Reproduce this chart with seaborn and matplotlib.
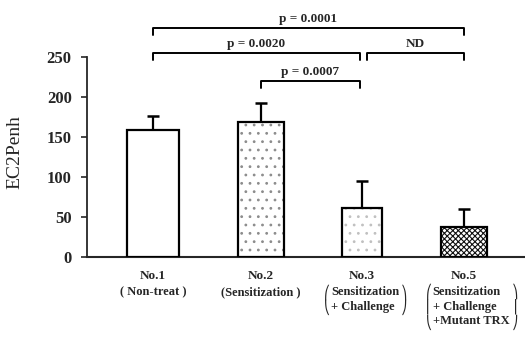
import matplotlib
matplotlib.use("Agg")
import matplotlib.pyplot as plt
import matplotlib.colors as mcolors
import seaborn as sns
import pandas as pd

groups = ["No.1", "No.2", "No.3", "No.5"]
treatments = [
    ["( Non-treat )"],
    ["(Sensitization )"],
    ["Sensitization", "+ Challenge"],
    ["Sensitization", "+ Challenge", "+Mutant TRX"],
]
ec2penh = [159, 169, 61, 38]
sem = [17, 23, 34, 22]

# (left group, right group, level, label)
comparisons = [
    (0, 3, 286, "p = 0.0001"),
    (0, 2, 255, "p = 0.0020"),
    (2, 3, 255, "ND"),
    (1, 2, 220, "p = 0.0007"),
]

sns.set_style("white")
plt.rcParams["font.family"] = ["Liberation Serif", "DejaVu Serif"]
plt.rcParams["hatch.linewidth"] = 0.8

fig = plt.figure(figsize=(5.25, 3.38), dpi=100)
ax = fig.add_axes([87 / 525, 1 - 257 / 338, (525 - 87) / 525, 252 / 338])

df = pd.DataFrame({"group": groups, "value": ec2penh})
sns.barplot(data=df, x="group", y="value", ax=ax, errorbar=None,
            color="white", edgecolor="black", linewidth=1.6, width=0.46,
            zorder=3)

# fill pattern, pattern colour and bar width for each group
hatches = ["", "..", "..", "xxxxxx"]
hatch_colors = ["black", "#8c8c8c", "#c0c0c0", "#111111"]
bar_widths = [0.50, 0.44, 0.39, 0.44]
centers = [0.0, 1.04, 2.02, 3.0]
for patch, h, hc, w, c in zip(ax.patches, hatches, hatch_colors,
                              bar_widths, centers):
    patch.set_hatch(h)
    patch._hatch_color = mcolors.to_rgba(hc)
    patch.set_width(w)
    patch.set_x(c - w / 2)

xs = [p.get_x() + p.get_width() / 2 for p in ax.patches]
ax.errorbar(xs, ec2penh, yerr=[[0] * len(sem), sem], fmt="none",
            ecolor="black", elinewidth=1.6, capsize=4.5, capthick=1.8,
            zorder=2)

ax.set_xlim(-0.636, 3.59)
ax.set_ylim(0, 315)
ax.set_yticks([0, 50, 100, 150, 200, 250])
ax.tick_params(axis="y", direction="out", length=4, width=1.2, labelsize=12,
               left=True, pad=7)
for lab in ax.get_yticklabels():
    lab.set_fontweight("bold")
ax.tick_params(axis="x", bottom=False, labelbottom=False)
for side in ["top", "right"]:
    ax.spines[side].set_visible(False)
ax.spines["left"].set_bounds(0, 250)
ax.spines["left"].set_linewidth(1.3)
ax.spines["bottom"].set_linewidth(1.5)
ax.set_xlabel("")
ax.set_ylabel("EC2Penh", fontsize=14)
ax.yaxis.set_label_coords(-0.146, 0.417)

# group names and treatment descriptions under the axis
line_step = 18.0
renderer = fig.canvas.get_renderer()
inv = ax.transData.inverted()
for x, name, lines in zip(xs, groups, treatments):
    ax.text(x, -24, name, ha="center", va="center", fontsize=9.5,
            fontweight="bold")
    if len(lines) == 1:
        ax.text(x, -44, lines[0], ha="center", va="center", fontsize=9,
                fontweight="bold")
        continue
    left = x - 0.30
    right = left
    for i, line in enumerate(lines):
        t = ax.text(left, -44 - line_step * i, line, ha="left", va="center",
                    fontsize=9, fontweight="bold", clip_on=False)
        x1 = inv.transform(t.get_window_extent(renderer).get_points())[1][0]
        right = max(right, x1)
    # tall parentheses around the multi-line description
    n = len(lines)
    lb = "⎛\n" + "⎜\n" * (n - 2) + "⎝"
    rb = "⎞\n" + "⎟\n" * (n - 2) + "⎠"
    mid = -44 - line_step * (n - 1) / 2
    ax.text(left - 0.01, mid, lb, ha="right", va="center", fontsize=9,
            family=["DejaVu Sans"], linespacing=1.0, clip_on=False)
    ax.text(right + 0.02, mid, rb, ha="left", va="center", fontsize=9,
            family=["DejaVu Sans"], linespacing=1.0, clip_on=False)

# significance brackets
for a, b, level, label in comparisons:
    xa, xb = xs[a], xs[b]
    if label == "ND":
        xa += 0.05
    elif b == 2:
        xb -= 0.02
    ax.plot([xa, xa, xb, xb], [level - 9, level, level, level - 9],
            color="black", linewidth=1.4, clip_on=False)
    ax.text((xa + xb) / 2, level + 4, label, ha="center", va="bottom",
            fontsize=9.5, fontweight="bold")

fig.savefig("out.png", dpi=100)
